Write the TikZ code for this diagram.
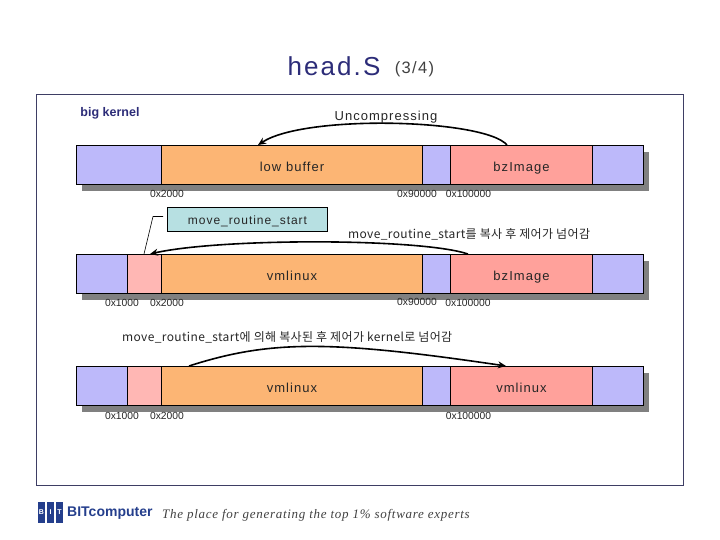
\documentclass[tikz,border=0pt]{standalone}
\usepackage{fontspec}
\setmainfont{Liberation Sans}
\newfontfamily\krfont[LetterSpace=3]{Noto Sans CJK KR}
\newfontfamily\widefont[LetterSpace=8]{Liberation Sans}
\newfontfamily\tagfont[LetterSpace=5.5]{Liberation Serif}
\usetikzlibrary{positioning,fit,backgrounds,arrows.meta}
\definecolor{memlav}{RGB}{189,185,250}
\definecolor{memorange}{RGB}{252,181,116}
\definecolor{memsalmon}{RGB}{255,161,155}
\definecolor{mempink}{RGB}{255,183,180}
\definecolor{memteal}{RGB}{183,224,226}
\definecolor{memframe}{RGB}{62,62,100}
\definecolor{memnavy}{RGB}{44,44,120}
\definecolor{logoblue}{RGB}{36,62,140}
\tikzset{
  memtxt/.style={font=\widefont\fontsize{13}{15}\selectfont, text=black!85},
  memseg/.style 2 args={
    memtxt, draw=black, fill=#2, line width=0.9pt, minimum width=#1,
    minimum height=39pt, inner sep=0pt, outer sep=0pt, anchor=west,
    text height=13.4pt, text depth=0pt
  },
  memshadow/.style={fill=black!50, inner sep=0pt, shift={(5.5,6.5)}},
  addr/.style={font=\fontsize{10.3}{12}\selectfont, text=black!85, inner sep=0pt},
  jump/.style={-{Stealth[length=8pt,width=7pt]}, line width=1.6pt},
  note/.style={font=\krfont\fontsize{12}{14}\selectfont, text=black!85, inner sep=0pt},
}
\begin{document}
\begin{tikzpicture}[x=1pt, y=-1pt, node distance=0pt]
    \useasboundingbox (0,0) rectangle (720,540);
    \node[draw=memframe, line width=0.9pt, minimum width=647pt, minimum height=391pt,
      inner sep=0pt, anchor=north west] (frame) at (36,94) {};

    \node[font=\widefont\fontsize{26}{30}\selectfont, text=memnavy, inner sep=0pt] (title) at (334,66) {head.S};
    \node[font=\widefont\fontsize{16.5}{18}\selectfont, text=black!75, inner sep=0pt, right=14pt of title, yshift=-3pt] (part) {(3/4)};
    \node[font=\bfseries\fontsize{12.5}{14}\selectfont, text=memnavy, inner sep=0pt] (big) at (110,113) {big kernel};
    \node[memtxt, inner sep=0pt] (uncomp) at (386,117) {Uncompressing};

    % first row
    \node[memseg={85pt}{memlav}] (lava) at (76.5,165) {};
    \node[memseg={261pt}{memorange}, right=of lava] (low) {low buffer};
    \node[memseg={28pt}{memlav}, right=of low] (lavb) {};
    \node[memseg={142pt}{memsalmon}, right=of lavb] (bza) {bzImage};
    \node[memseg={51pt}{memlav}, right=of bza] (lavc) {};

    % second row
    \node[memseg={51pt}{memlav}] (lavd) at (76.5,274) {};
    \node[memseg={34pt}{mempink}, right=of lavd] (pinka) {};
    \node[memseg={261pt}{memorange}, right=of pinka] (vma) {vmlinux};
    \node[memseg={28pt}{memlav}, right=of vma] (lave) {};
    \node[memseg={142pt}{memsalmon}, right=of lave] (bzb) {bzImage};
    \node[memseg={51pt}{memlav}, right=of bzb] (lavf) {};

    % third row
    \node[memseg={51pt}{memlav}] (lavg) at (76.5,386) {};
    \node[memseg={34pt}{mempink}, right=of lavg] (pinkb) {};
    \node[memseg={261pt}{memorange}, right=of pinkb] (vmb) {vmlinux};
    \node[memseg={28pt}{memlav}, right=of vmb] (lavh) {};
    \node[memseg={142pt}{memsalmon}, right=of lavh] (vmc) {vmlinux};
    \node[memseg={51pt}{memlav}, right=of vmc] (lavi) {};

    \begin{scope}[on background layer]
      \node[memshadow, fit=(lava)(lavc)] (shada) {};
      \node[memshadow, fit=(lavd)(lavf)] (shadb) {};
      \node[memshadow, fit=(lavg)(lavi)] (shadc) {};
    \end{scope}

    % addresses
    \node[addr, below=6pt of lava.south east, xshift=5.5pt] (ada) {0x2000};
    \node[addr, below=6pt of low.south east, xshift=-5.5pt] (adb) {0x90000};
    \node[addr, below=6pt of lavb.south east, xshift=18pt] (adc) {0x100000};
    \node[addr, below=6pt of lavd.south east, xshift=-5.5pt] (add) {0x1000};
    \node[addr, below=6pt of pinka.south east, xshift=5.5pt] (ade) {0x2000};
    \node[addr, below=5pt of vma.south east, xshift=-5.5pt] (adf) {0x90000};
    \node[addr, below=6pt of lave.south east, xshift=17.5pt] (adg) {0x100000};
    \node[addr, below=6.5pt of lavg.south east, xshift=-5.5pt] (adh) {0x1000};
    \node[addr, below=6.5pt of pinkb.south east, xshift=5.5pt] (adi) {0x2000};
    \node[addr, below=6.5pt of lavh.south east, xshift=18pt] (adj) {0x100000};

    \node[font=\widefont\fontsize{12}{15}\selectfont, text=black!85, draw=black, fill=memteal, line width=0.8pt, minimum width=160pt,
      minimum height=24pt, inner sep=0pt, text height=12pt, text depth=0pt] (movebox) at (247.5,219) {move\_routine\_start};
    \node[note, anchor=west] (copynote) at (348,234) {move\_routine\_start를 복사 후 제어가 넘어감};
    \node[note, anchor=west] (jumpnote) at (122,337) {move\_routine\_start에 의해 복사된 후 제어가 kernel로 넘어감};

    \coordinate (upfrom) at (507,145);
    \coordinate (upto) at (258,145);
    \coordinate (copyfrom) at (468,254);
    \coordinate (copyto) at (150,254);
    \coordinate (kernfrom) at (189,366);
    \coordinate (kernto) at (506,366);
    \coordinate (legbend) at (153,216.5);
    \coordinate (legfoot) at (144,254);
    \coordinate (legstart) at (163,216.5);

    \draw[jump] (upfrom) .. controls (485,119) and (305,114) .. (upto);
    \draw[jump] (copyfrom) .. controls (420,238) and (220,238) .. (copyto);
    \draw[jump] (kernfrom) .. controls (270,340) and (330,340) .. (kernto);
    \draw[line width=0.6pt] (legstart) -- (legbend) -- (legfoot);

    % logo and tagline
    \foreach \n/\l/\xx in {logob/B/41.5, logoi/I/50.5, logot/T/59.5}
      \node[fill=logoblue, text=white, font=\bfseries\fontsize{7}{8}\selectfont, minimum width=7.5pt,
        minimum height=21pt, inner sep=0pt, text depth=-6pt] (\n) at (\xx,512.5) {\l};
    \node[font=\bfseries\fontsize{14}{16}\selectfont, text=logoblue, inner sep=0pt, anchor=west] (bitname) at (67,513) {BITcomputer};
    \node[font=\tagfont\itshape\fontsize{13}{15}\selectfont, text=black!75, inner sep=0pt, anchor=west] (tagline) at (162,515) {The place for generating the top 1\% software experts};
  \end{tikzpicture}
\end{document}
